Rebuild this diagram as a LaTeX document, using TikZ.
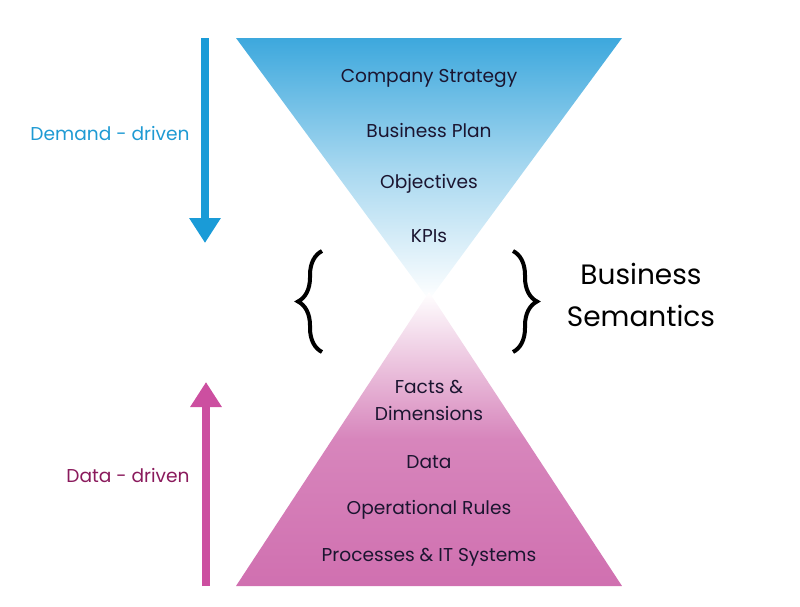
\documentclass[tikz,border=0pt]{standalone}
\usepackage{fontspec}
\setmainfont{Poppins}
\usetikzlibrary{arrows.meta,decorations.pathreplacing}
\definecolor{topblue}{HTML}{3DA8DD}
\definecolor{arrowblue}{HTML}{1A9BD7}
\definecolor{botpink}{HTML}{D070B0}
\definecolor{arrowpink}{HTML}{CC4FA0}
\definecolor{txtdark}{HTML}{1B1530}
\definecolor{demandblue}{HTML}{1E9AD3}
\definecolor{datapurple}{HTML}{8A1A5C}
\tikzset{
  lbl/.style={font=\fontsize{18.6}{22}\selectfont, text=txtdark},
  big/.style={font=\fontsize{28}{33}\selectfont, text=black, align=center},
  side/.style={font=\fontsize{18.6}{22}\selectfont},
  bigarrow/.style={line width=8pt, -{Triangle[width=30pt,length=25pt]}},
  brace/.style={line width=4pt}
}
\begin{document}
\begin{tikzpicture}[x=1pt,y=-1pt]
\useasboundingbox (0,0) rectangle (800,606);
% top triangle
\coordinate (tl) at (236,38);
\coordinate (tr) at (622,38);
\coordinate (tapex) at (429,300);
\begin{scope}
\clip (tl) -- (tr) -- (tapex) -- cycle;
\shade[top color=topblue, bottom color=white, middle color=topblue!45] (236,38) rectangle (622,300);
\end{scope}
% bottom triangle
\coordinate (bl) at (236,586);
\coordinate (br) at (622,586);
\coordinate (bapex) at (429,292);
\begin{scope}
\clip (bl) -- (br) -- (bapex) -- cycle;
\shade[top color=white, bottom color=botpink, middle color=botpink!85] (236,292) rectangle (622,586);
\end{scope}
% labels
\node[lbl] (cs) at (429,78) {Company Strategy};
\node[lbl] (bp) at (429,131) {Business Plan};
\node[lbl] (ob) at (429,184) {Objectives};
\node[lbl] (kp) at (429,236) {KPIs};
\node[lbl, align=center] (fd) at (429,400) {Facts \&\\[5pt] Dimensions};
\node[lbl] (da) at (429,462) {Data};
\node[lbl] (or) at (429,510) {Operational Rules};
\node[lbl] (pi) at (429,557) {Processes \& IT Systems};
% arrows
\coordinate (a1s) at (205,38);
\coordinate (a1e) at (205,243);
\draw[bigarrow, arrowblue] (a1s) -- (a1e);
\coordinate (a2s) at (206,586);
\coordinate (a2e) at (206,382);
\draw[bigarrow, arrowpink] (a2s) -- (a2e);
\node[side, text=demandblue] (dd) at (110,134) {Demand - driven};
\node[side, text=datapurple] (ddr) at (128,475) {Data - driven};
% braces
\coordinate (lb1) at (322,352);
\coordinate (lb2) at (322,251);
\draw[brace, decorate, decoration={brace, amplitude=24pt, aspect=0.5}] (lb1) -- (lb2);
\coordinate (rb1) at (513,251);
\coordinate (rb2) at (513,352);
\draw[brace, decorate, decoration={brace, amplitude=24pt, aspect=0.5}] (rb1) -- (rb2);
\node[big] (bs) at (641,295) {Business\\[9pt] Semantics};
\end{tikzpicture}
\end{document}
